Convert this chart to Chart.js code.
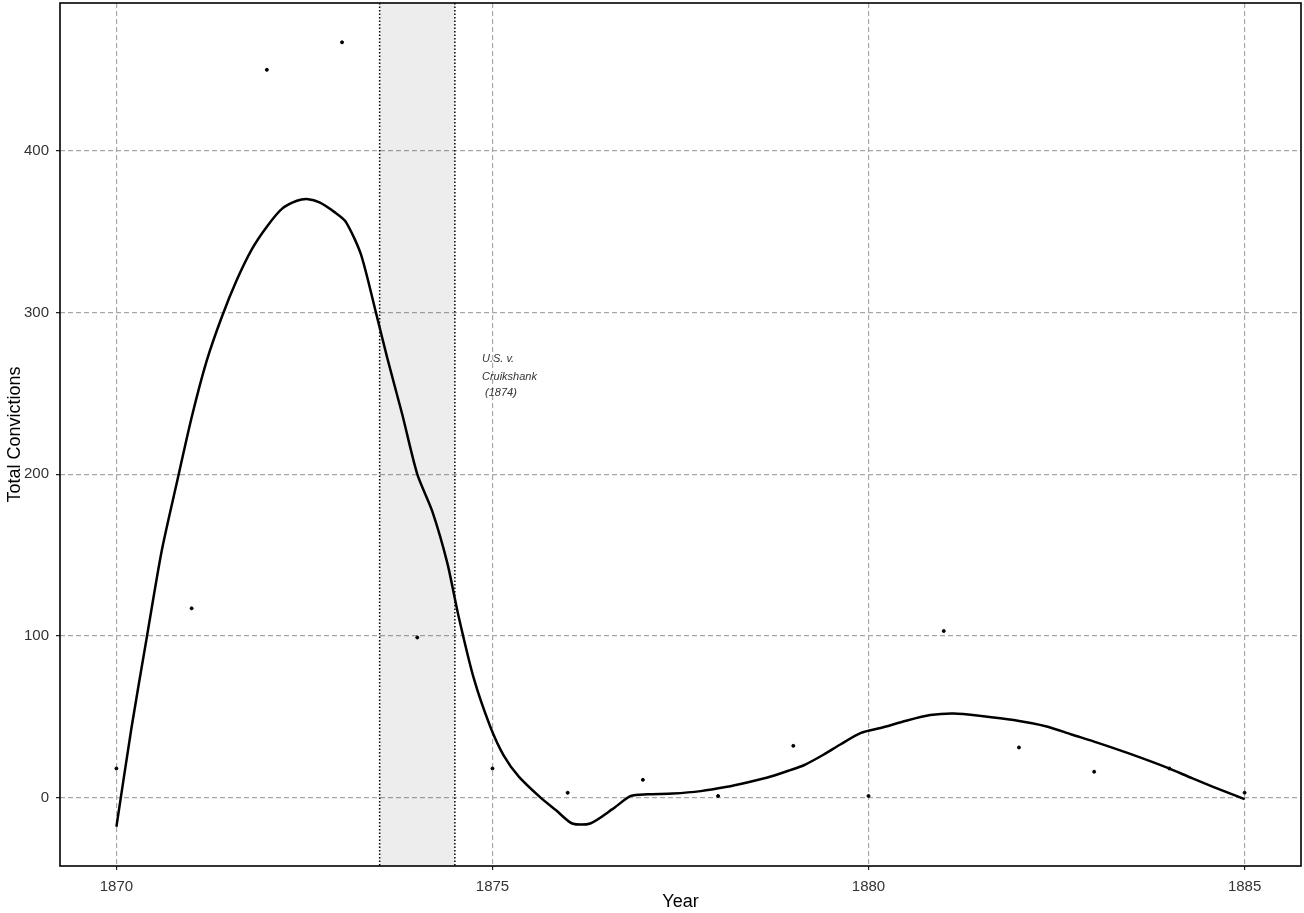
<!DOCTYPE html>
<html>
<head>
<meta charset="utf-8">
<script src="https://cdn.jsdelivr.net/npm/chart.js@4/dist/chart.umd.min.js"></script>
<style>
  html, body { margin: 0; padding: 0; background: #fff; }
  #wrap { width: 1304px; height: 913px; position: relative; }
</style>
</head>
<body>
<div id="wrap"><canvas id="convictionsChart"></canvas></div>
<script>
// observed yearly totals
const years = [1870, 1871, 1872, 1873, 1874, 1875, 1876, 1877, 1878, 1879, 1880, 1881, 1882, 1883, 1884, 1885];
const convictions = [18, 117, 450, 467, 99, 18, 3, 11, 1, 32, 1, 103, 31, 16, 18, 3];

// smoothed fit
const smoothX = [1870.00, 1870.20, 1870.40, 1870.60, 1870.80, 1871.00, 1871.20, 1871.40, 1871.60, 1871.80,
  1872.00, 1872.20, 1872.40, 1872.55, 1872.70, 1872.90, 1873.05, 1873.25, 1873.45, 1873.60,
  1873.80, 1874.00, 1874.20, 1874.40, 1874.55, 1874.75, 1874.97, 1875.15, 1875.35, 1875.64,
  1875.85, 1876.06, 1876.30, 1876.60, 1876.84, 1877.06, 1877.40, 1877.77, 1878.10, 1878.40,
  1878.70, 1878.96, 1879.14, 1879.40, 1879.63, 1879.90, 1880.16, 1880.50, 1880.82, 1881.13,
  1881.50, 1881.93, 1882.37, 1882.70, 1883.04, 1883.48, 1883.97, 1884.30, 1884.59, 1885.00];
const smoothY = [-18, 43, 98, 152, 194, 235, 270, 297, 320, 339,
  353, 364, 369, 370, 368, 362, 356, 336, 300, 272,
  237, 200, 177, 145, 112, 74, 44, 26, 13, 0,
  -8, -16, -16, -7, 1, 2, 2.5, 4, 6.5, 9.5,
  13, 17, 20, 26.5, 33, 40, 43, 47.5, 51, 52,
  50.5, 48, 44, 39, 34, 27, 18.5, 12, 6.5, -1];

const xTicks = [1870, 1875, 1880, 1885];
const yTicks = [0, 100, 200, 300, 400];

// shaded period and its label
const shadeFrom = 1873.5;
const shadeTo = 1874.5;
const noteLines = ['U.S. v.', 'Cruikshank', ' (1874)'];
const noteX = 1874.86;
const noteY = [271, 260, 250.5];

const FONT = '"Liberation Sans", Arial, sans-serif';

const shadePlugin = {
  id: 'shade',
  beforeDatasetsDraw(chart) {
    const { ctx, chartArea, scales } = chart;
    const x1 = scales.x.getPixelForValue(shadeFrom);
    const x2 = scales.x.getPixelForValue(shadeTo);
    ctx.save();
    ctx.fillStyle = 'rgba(0,0,0,0.07)';
    ctx.fillRect(x1, chartArea.top, x2 - x1, chartArea.bottom - chartArea.top);
    ctx.strokeStyle = '#000';
    ctx.lineWidth = 1.5;
    ctx.setLineDash([1.5, 2]);
    [x1, x2].forEach(x => {
      ctx.beginPath();
      ctx.moveTo(x, chartArea.top);
      ctx.lineTo(x, chartArea.bottom);
      ctx.stroke();
    });
    ctx.setLineDash([]);
    ctx.fillStyle = '#333';
    ctx.font = 'italic 11px ' + FONT;
    ctx.textAlign = 'left';
    ctx.textBaseline = 'middle';
    noteLines.forEach((t, i) => {
      ctx.fillText(t, scales.x.getPixelForValue(noteX), scales.y.getPixelForValue(noteY[i]));
    });
    ctx.restore();
  },
  afterDraw(chart) {
    const { ctx, chartArea } = chart;
    ctx.save();
    ctx.strokeStyle = '#000';
    ctx.lineWidth = 1.6;
    ctx.strokeRect(chartArea.left, chartArea.top, chartArea.right - chartArea.left, chartArea.bottom - chartArea.top);
    ctx.restore();
  }
};

const gridOpts = {
  color: '#a8a8a8',
  lineWidth: 1.2,
  drawTicks: true,
  tickLength: 4,
  tickColor: '#222',
  tickBorderDash: [1, 0],
  tickWidth: 1.2
};

const ctx = document.getElementById('convictionsChart').getContext('2d');
const chart = new Chart(ctx, {
  type: 'scatter',
  data: {
    datasets: [{
      label: 'Convictions',
      data: years.map((y, i) => ({ x: y, y: convictions[i] })),
      backgroundColor: '#000',
      borderColor: '#000',
      pointRadius: 1.5,
      pointHoverRadius: 1.5,
      order: 2
    }, {
      label: 'Smooth',
      data: smoothX.map((x, i) => ({ x: x, y: smoothY[i] })),
      showLine: true,
      borderColor: '#000',
      borderWidth: 2.5,
      pointRadius: 0,
      tension: 0.25,
      fill: false,
      order: 1
    }]
  },
  options: {
    responsive: true,
    maintainAspectRatio: false,
    animation: false,
    layout: { padding: { top: 3, right: 3, left: 0, bottom: 0 } },
    plugins: {
      legend: { display: false },
      tooltip: { enabled: false }
    },
    scales: {
      x: {
        type: 'linear',
        min: 1869.25,
        max: 1885.75,
        afterBuildTicks: s => { s.ticks = xTicks.map(v => ({ value: v })); },
        afterFit: s => { s.height = 47; s.paddingLeft = 0; s.paddingRight = 0; },
        grid: gridOpts,
        border: { display: false, dash: [5, 3] },
        ticks: {
          color: '#333',
          font: { family: FONT, size: 15 },
          padding: 8,
          maxRotation: 0,
          callback: v => String(v)
        },
        title: {
          display: true,
          text: 'Year',
          color: '#000',
          font: { family: FONT, size: 18 },
          padding: { top: 2, bottom: 0 }
        }
      },
      y: {
        type: 'linear',
        min: -42.3,
        max: 491.3,
        afterBuildTicks: s => { s.ticks = yTicks.map(v => ({ value: v })); },
        afterFit: s => { s.width = 60; s.paddingTop = 0; s.paddingBottom = 0; },
        grid: gridOpts,
        border: { display: false, dash: [5, 3] },
        ticks: {
          color: '#333',
          font: { family: FONT, size: 15 },
          padding: 7,
          callback: v => String(v)
        },
        title: {
          display: true,
          text: 'Total Convictions',
          color: '#000',
          font: { family: FONT, size: 18 },
          padding: { top: 4, bottom: 0 }
        }
      }
    }
  },
  plugins: [shadePlugin]
});
</script>
</body>
</html>
